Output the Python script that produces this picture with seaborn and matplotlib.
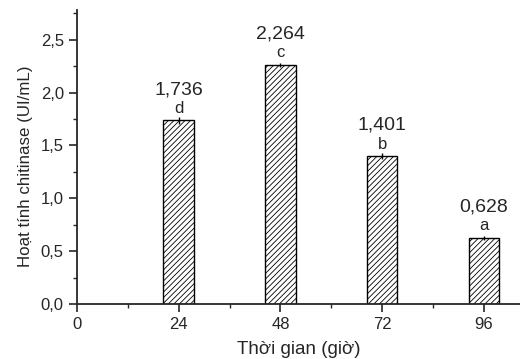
import numpy as np
import matplotlib.pyplot as plt
import seaborn as sns
import pandas as pd
from matplotlib.ticker import FuncFormatter, MultipleLocator

# Số liệu
gio = [24, 48, 72, 96]
hoat_tinh = [1.736, 2.264, 1.401, 0.628]
sai_so = [0.03, 0.02, 0.03, 0.02]
chu_cai = ['d', 'c', 'b', 'a']

sns.set_style('ticks')
plt.rcParams['font.family'] = ['Liberation Sans', 'DejaVu Sans']
plt.rcParams['hatch.linewidth'] = 0.6

data = pd.DataFrame({'gio': gio, 'hoat_tinh': hoat_tinh})

fig = plt.figure(figsize=(5.2, 3.59), dpi=100)
ax = fig.add_axes([0.148, 0.153, 0.852, 0.819])

sns.barplot(x='gio', y='hoat_tinh', data=data, native_scale=True, width=0.3,
            color='white', edgecolor='black', linewidth=1.0, errorbar=None, ax=ax)
for p in ax.patches:
    p.set_hatch('//////')

ax.errorbar(gio, hoat_tinh, yerr=sai_so, fmt='none', ecolor='black', elinewidth=1, capsize=0)

for x, y, c in zip(gio, hoat_tinh, chu_cai):
    ax.annotate(c, (x, y), xytext=(0, 3), textcoords='offset points',
                ha='center', va='bottom', fontsize=12)
    ax.annotate(f'{y:.3f}'.replace('.', ','), (x, y), xytext=(0, 16), textcoords='offset points',
                ha='center', va='bottom', fontsize=14)

ax.set_xlim(0, 104.5)
ax.set_ylim(0, 2.78)
ax.set_xticks([0, 24, 48, 72, 96])
ax.xaxis.set_minor_locator(MultipleLocator(12))
ax.yaxis.set_major_locator(MultipleLocator(0.5))
ax.yaxis.set_minor_locator(MultipleLocator(0.25))
ax.yaxis.set_major_formatter(FuncFormatter(lambda v, pos: f'{v:.1f}'.replace('.', ',')))
ax.tick_params(axis='both', which='major', length=6, width=1.2, labelsize=12, direction='out')
ax.tick_params(axis='both', which='minor', length=3, width=1.0, direction='out')

for s in ['left', 'bottom']:
    ax.spines[s].set_linewidth(1.3)
sns.despine(ax=ax)

ax.set_xlabel('Thời gian (giờ)', fontsize=13.5, labelpad=6)
ax.set_ylabel('Hoạt tính chitinase (UI/mL)', fontsize=12.2)
ax.yaxis.set_label_coords(-0.10, 0.47)

fig.savefig('out.png', dpi=100)
